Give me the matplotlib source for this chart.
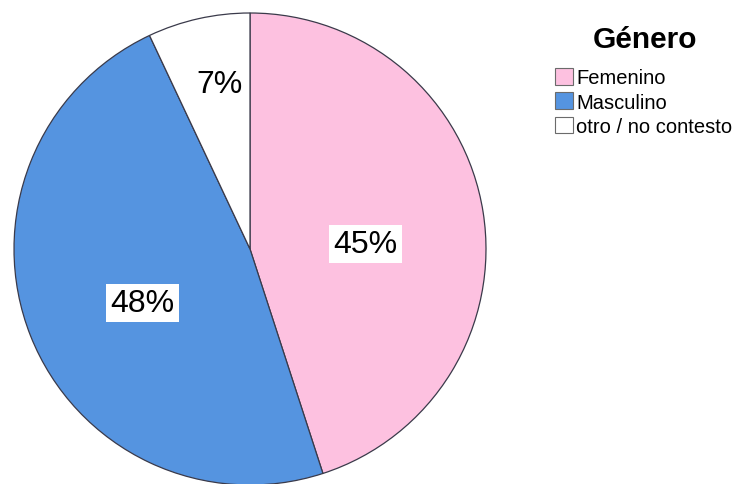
import numpy as np
import matplotlib
matplotlib.use("Agg")
import matplotlib.pyplot as plt
from matplotlib.patches import Patch

plt.rcParams['font.family'] = ['Liberation Sans', 'DejaVu Sans']

categories = ["Femenino", "Masculino", "otro / no contesto"]
shares = [45, 48, 7]
colors = ["#FDC1E0", "#5594E0", "#FFFFFF"]
label_radius = [0.49, 0.51, 0.71]
label_angle_shift = [-6.5, 5.2, -2]
legend_title = "Género"

W, H = 740, 485
fig = plt.figure(figsize=(W / 100, H / 100), dpi=100)

cx, cy, r = 250, 250, 236
ax = fig.add_axes([(cx - r) / W, (H - cy - r) / H, 2 * r / W, 2 * r / H])

wedges, _ = ax.pie(shares, colors=colors, startangle=90, counterclock=False,
                   radius=1.0, center=(0, 0),
                   wedgeprops=dict(edgecolor="#3a3a4a", linewidth=0.9))
for w in wedges:
    w.set_clip_on(False)
ax.set_xlim(-1, 1)
ax.set_ylim(-1, 1)
ax.set_aspect('equal')
ax.axis('off')

# percentage labels in white boxes, placed along each wedge's mid-angle
total = sum(shares)
start = 90.0
for val, rad, shift in zip(shares, label_radius, label_angle_shift):
    span = 360.0 * val / total
    mid = np.deg2rad(start - span / 2 + shift)
    start -= span
    ax.text(rad * np.cos(mid), rad * np.sin(mid), f"{val}%",
            ha='center', va='center', fontsize=23, color='black',
            bbox=dict(boxstyle='square,pad=0.13', facecolor='white', edgecolor='none'))

fig.text(645 / W, 1 - 40 / H, legend_title, ha='center', va='center',
         fontsize=21.5, fontweight='bold')

handles = [Patch(facecolor=c, edgecolor='#6b6b6b', linewidth=0.8) for c in colors]
fig.legend(handles, categories, loc='upper left',
           bbox_to_anchor=(555 / W, 1 - 69 / H), frameon=False,
           fontsize=14.5, handlelength=0.9, handleheight=0.9,
           handletextpad=0.15, labelspacing=0.25, borderpad=0, borderaxespad=0)

fig.savefig("out.png", dpi=100)
